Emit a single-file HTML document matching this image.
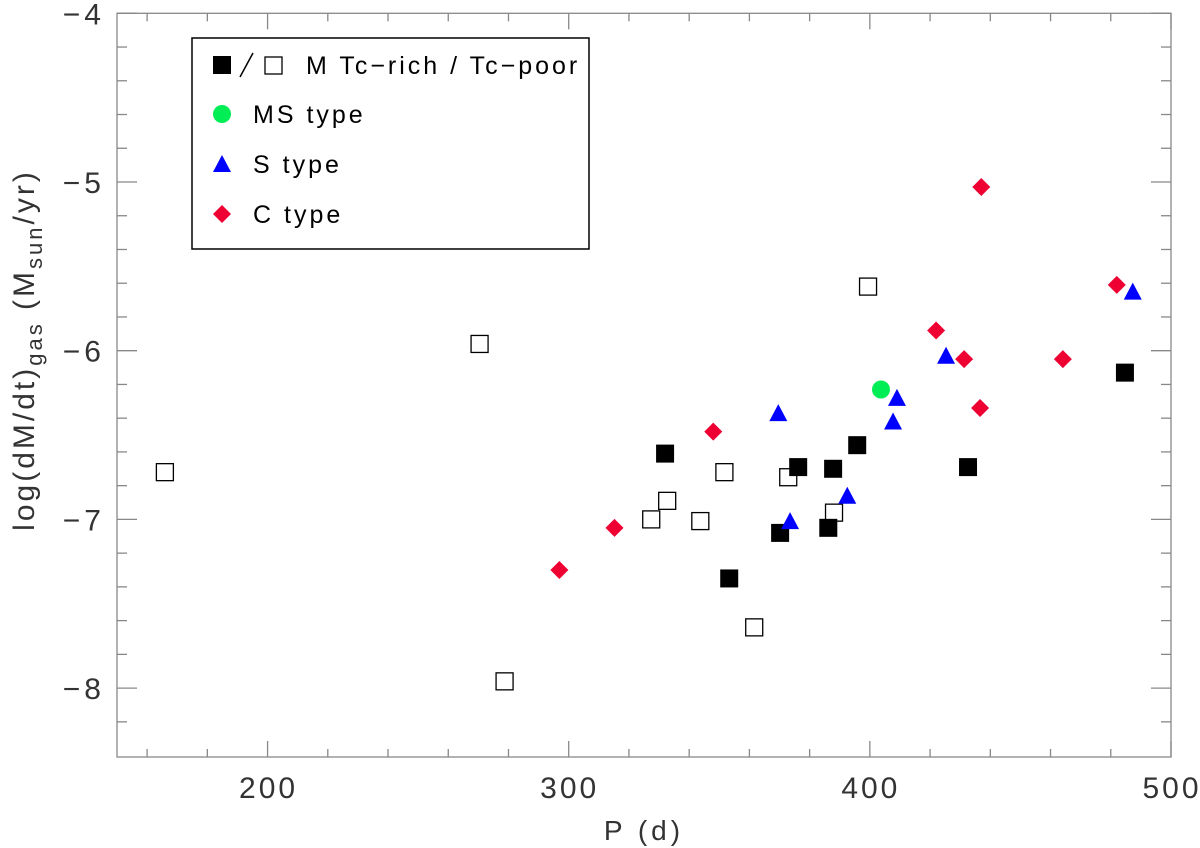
<!DOCTYPE html>
<html><head><meta charset="utf-8"><style>
body{margin:0;background:#fff}
svg{display:block;font-family:"Liberation Sans",sans-serif}
</style></head><body>
<svg id="chart" width="1200" height="848" viewBox="0 0 1200 848">
<g id="axes"></g>
<g id="marks"></g>
<g>
 <rect x="192" y="38" width="397" height="211" fill="#fff" stroke="#000" stroke-width="1.5"/>
 <g>
  <rect x="213" y="56" width="18" height="18" fill="#000"/>
  <line x1="240" y1="77" x2="253" y2="53" stroke="#000" stroke-width="1.5"/>
  <rect x="265" y="57" width="17" height="17" fill="none" stroke="#000" stroke-width="1.3"/>
  <text x="306" y="74" font-size="25" letter-spacing="3">M Tc−rich / Tc−poor</text>
 </g>
 <g>
  <circle cx="222" cy="114" r="9" fill="#00ee55"/>
  <text x="253" y="123" font-size="25" letter-spacing="3">MS type</text>
 </g>
 <g>
  <polygon points="222,155 231,172 213,172" fill="#0000ff"/>
  <text x="253" y="173" font-size="25" letter-spacing="3">S type</text>
 </g>
 <g>
  <polygon points="222,205 231,214 222,223 213,214" fill="#ee0033"/>
  <text x="253" y="223" font-size="25" letter-spacing="3">C type</text>
 </g>
</g>
<text x="644" y="840" font-size="28" fill="#333" text-anchor="middle" letter-spacing="4">P (d)</text>
<text transform="translate(34,350) rotate(-90)" font-size="30" fill="#333" text-anchor="middle" letter-spacing="3">log(dM/dt)<tspan font-size="22" dy="8">gas</tspan><tspan dy="-8">  (M</tspan><tspan font-size="22" dy="8">sun</tspan><tspan dy="-8">/yr)</tspan></text>
</svg>
<script>
const xTicks=[200,300,400,500];
const yTicks=[-4,-5,-6,-7,-8];
const mRichP=[332,353.3,370.2,376.2,386.2,387.8,395.8,432.6,484.7];
const mRichM=[-6.61,-7.35,-7.08,-6.69,-7.05,-6.70,-6.56,-6.69,-6.13];
const mPoorP=[165.9,270.4,278.7,327.4,332.7,343.7,351.7,361.6,372.9,388.1,399.4];
const mPoorM=[-6.72,-5.96,-7.96,-7.0,-6.89,-7.01,-6.72,-7.64,-6.75,-6.96,-5.62];
const msP=[403.7];
const msM=[-6.23];
const sP=[369.6,373.5,392.5,407.7,409.0,425.3,487.3];
const sM=[-6.37,-7.01,-6.86,-6.42,-6.28,-6.03,-5.65];
const cP=[296.9,315.2,348.0,422,431.3,436.6,437,464.1,482];
const cM=[-7.30,-7.05,-6.48,-5.88,-6.05,-6.34,-5.03,-6.05,-5.61];

const X0=117,X1=1171,Y0=13.3,Y1=757;
function xs(v){return X0+(v-150)*(X1-X0)/350;}
function ys(v){return Y0+(-4-v)*168.7;}
const NS='http://www.w3.org/2000/svg';
function mk(tag,attrs,parent){const e=document.createElementNS(NS,tag);for(const k in attrs)e.setAttribute(k,attrs[k]);parent.appendChild(e);return e;}
const ax=document.getElementById('axes');
const frame=mk('rect',{x:X0,y:Y0,width:X1-X0,height:Y1-Y0,fill:'none',stroke:'#888','stroke-width':1.3},ax);


for(let v=160;v<=500;v+=20){
  const maj=(v%100===0),L=maj?16:8,x=xs(v);
  mk('line',{x1:x,y1:Y1,x2:x,y2:Y1-L,stroke:'#888','stroke-width':1.3},ax);
  mk('line',{x1:x,y1:Y0,x2:x,y2:Y0+L,stroke:'#888','stroke-width':1.3},ax);
}
for(let i=0;i<=21;i++){
  const v=-4-i*0.2;const y=ys(v);if(y>Y1)break;
  const maj=(i%5===0),L=maj?20:10;
  mk('line',{x1:X0,y1:y,x2:X0+L,y2:y,stroke:'#888','stroke-width':1.3},ax);
  mk('line',{x1:X1,y1:y,x2:X1-L,y2:y,stroke:'#888','stroke-width':1.3},ax);
}
xTicks.forEach(v=>{
  const t=mk('text',{x:xs(v)+1,y:798,'font-size':30,fill:'#333','text-anchor':'middle','letter-spacing':3},ax);
  
  
  t.textContent=v;
});
yTicks.forEach(v=>{
  const t=mk('text',{x:105,y:ys(v)+11,'font-size':30,fill:'#333','text-anchor':'end','letter-spacing':4},ax);
  
  
  t.textContent='−'+Math.abs(v);
});
const mg=document.getElementById('marks');
mRichP.forEach((p,i)=>{
  const e=mk('rect',{x:xs(p)-9,y:ys(mRichM[i])-9,width:18,height:18,fill:'#000'},mg);
  
  
});
mPoorP.forEach((p,i)=>{
  const e=mk('rect',{x:xs(p)-8.5,y:ys(mPoorM[i])-8.5,width:17,height:17,fill:'none',stroke:'#000','stroke-width':1.3},mg);
  
  
});
msP.forEach((p,i)=>{
  const e=mk('circle',{cx:xs(p),cy:ys(msM[i]),r:9,fill:'#00ee55'},mg);
  
  
});
sP.forEach((p,i)=>{
  const x=xs(p),y=ys(sM[i]);
  const e=mk('polygon',{points:`${x},${y-9} ${x+9},${y+8} ${x-9},${y+8}`,fill:'#0000ff'},mg);
  
  
});
cP.forEach((p,i)=>{
  const x=xs(p),y=ys(cM[i]);
  const e=mk('polygon',{points:`${x},${y-9} ${x+9},${y} ${x},${y+9} ${x-9},${y}`,fill:'#ee0033'},mg);
  
  
});
</script>
</body></html>
